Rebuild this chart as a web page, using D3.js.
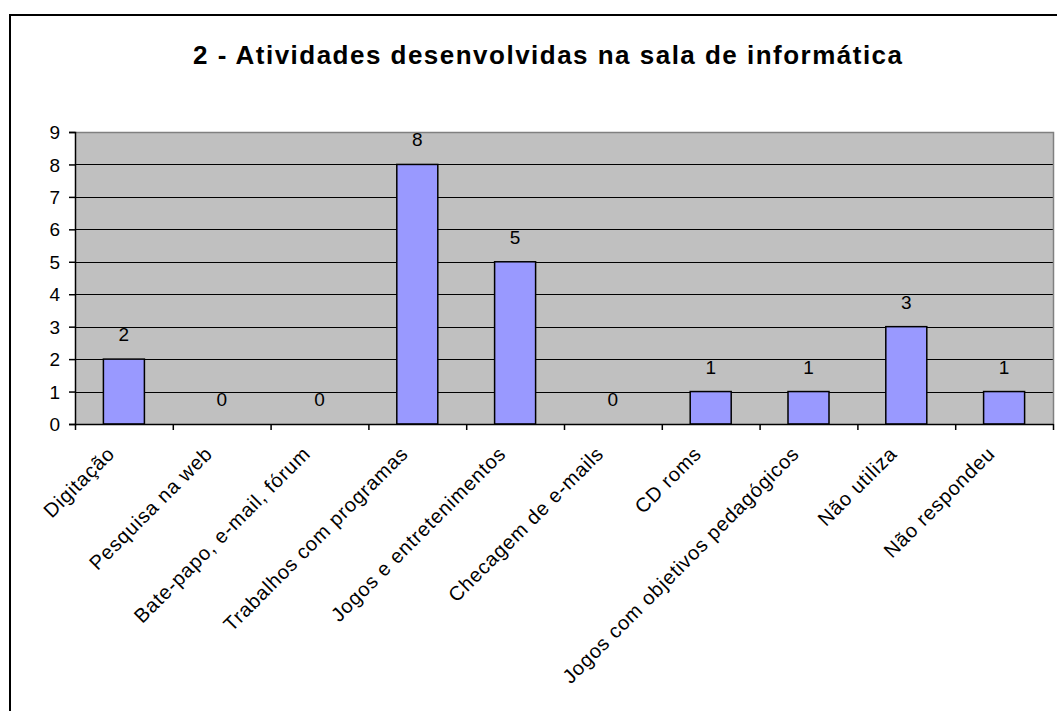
<!DOCTYPE html>
<html>
<head>
<meta charset="utf-8">
<script src="https://cdn.jsdelivr.net/npm/d3@7"></script>
<style>
html,body{margin:0;padding:0;background:#fff;}
svg{display:block;font-family:"Liberation Sans",Arial,sans-serif;}
</style>
</head>
<body>
<svg id="chart" width="1057" height="711"></svg>
<script>
const title = "2 - Atividades desenvolvidas na sala de informática";
const categories = ["Digitação","Pesquisa na web","Bate-papo, e-mail, fórum","Trabalhos com programas","Jogos e entretenimentos","Checagem de e-mails","CD roms","Jogos com objetivos pedagógicos","Não utiliza","Não respondeu"];
const values = [2,0,0,8,5,0,1,1,3,1];
const yTicks = [0,1,2,3,4,5,6,7,8,9];

const svg = d3.select("#chart");
const plot = {left:75, top:132, right:1053, bottom:424};

// outer frame
svg.append("rect").attr("x",10).attr("y",15).attr("width",1070).attr("height",720)
  .attr("fill","#fff").attr("stroke","#000").attr("stroke-width",2);

// title
svg.append("text").attr("x",547.5).attr("y",64)
  .attr("text-anchor","middle").attr("font-size",26).attr("font-weight","bold")
  .attr("fill","#000").attr("textLength",709).attr("lengthAdjust","spacing")
  .text(title);

const x = d3.scaleBand().domain(categories).range([plot.left,plot.right]).paddingInner(0).paddingOuter(0);
const y = d3.scaleLinear().domain([0,9]).range([plot.bottom,plot.top]);

// plot background
svg.append("rect").attr("x",plot.left).attr("y",plot.top)
  .attr("width",plot.right-plot.left).attr("height",plot.bottom-plot.top)
  .attr("fill","#C0C0C0");

// gridlines
svg.append("g").selectAll("line").data(yTicks.filter(d=>d>0 && d<9)).join("line")
  .attr("x1",plot.left).attr("x2",plot.right)
  .attr("y1",d=>Math.round(y(d))+0.5).attr("y2",d=>Math.round(y(d))+0.5)
  .attr("stroke","#000").attr("stroke-width",1);

// plot border top/right gray
svg.append("path")
  .attr("d",`M${plot.left},${plot.top+0.5}H${plot.right+0.5}V${plot.bottom}`)
  .attr("fill","none").attr("stroke","#808080").attr("stroke-width",1.5);

// bars
const bw = 41;
svg.append("g").selectAll("rect").data(values).join("rect")
  .attr("x",(d,i)=>x(categories[i])+x.bandwidth()/2-bw/2)
  .attr("y",d=>y(d))
  .attr("width",bw)
  .attr("height",d=>y(0)-y(d))
  .attr("fill","#9999FF").attr("stroke","#000").attr("stroke-width",1.5);

// value labels
svg.append("g").selectAll("text").data(values).join("text")
  .attr("x",(d,i)=>x(categories[i])+x.bandwidth()/2)
  .attr("y",d=>y(d)-18)
  .attr("text-anchor","middle").attr("font-size",19).attr("fill","#000")
  .text(d=>d);

// y axis
const yAxis = d3.axisLeft(y).tickValues(yTicks).tickSize(6).tickPadding(9).tickFormat(d3.format("d"));
const gy = svg.append("g").attr("transform",`translate(${plot.left},0)`).call(yAxis);
gy.select(".domain").attr("stroke","#000").attr("stroke-width",1.5);
gy.selectAll(".tick line").attr("stroke","#000").attr("stroke-width",1.5);
gy.selectAll(".tick text").attr("font-size",19).attr("font-family","Liberation Sans, Arial, sans-serif").attr("fill","#000").attr("dy","0.35em");

// x axis baseline and ticks at category boundaries
const xb = d3.scaleLinear().domain([0,categories.length]).range([plot.left,plot.right]);
const xAxis = d3.axisBottom(xb).tickValues(d3.range(0,categories.length+1)).tickSize(6).tickSizeOuter(0).tickFormat("");
const gx = svg.append("g").attr("transform",`translate(0,${plot.bottom})`).call(xAxis);
gx.select(".domain").attr("stroke","#000").attr("stroke-width",1.5);
gx.selectAll(".tick line").attr("stroke","#000").attr("stroke-width",1.5);

// rotated category labels
svg.append("g").selectAll("text").data(categories).join("text")
  .attr("transform",d=>`translate(${x(d)+x.bandwidth()/2-8},${plot.bottom+31}) rotate(-45)`)
  .attr("text-anchor","end").attr("font-size",20).attr("letter-spacing","0.8px").attr("fill","#000")
  .text(d=>d);
</script>
</body>
</html>
